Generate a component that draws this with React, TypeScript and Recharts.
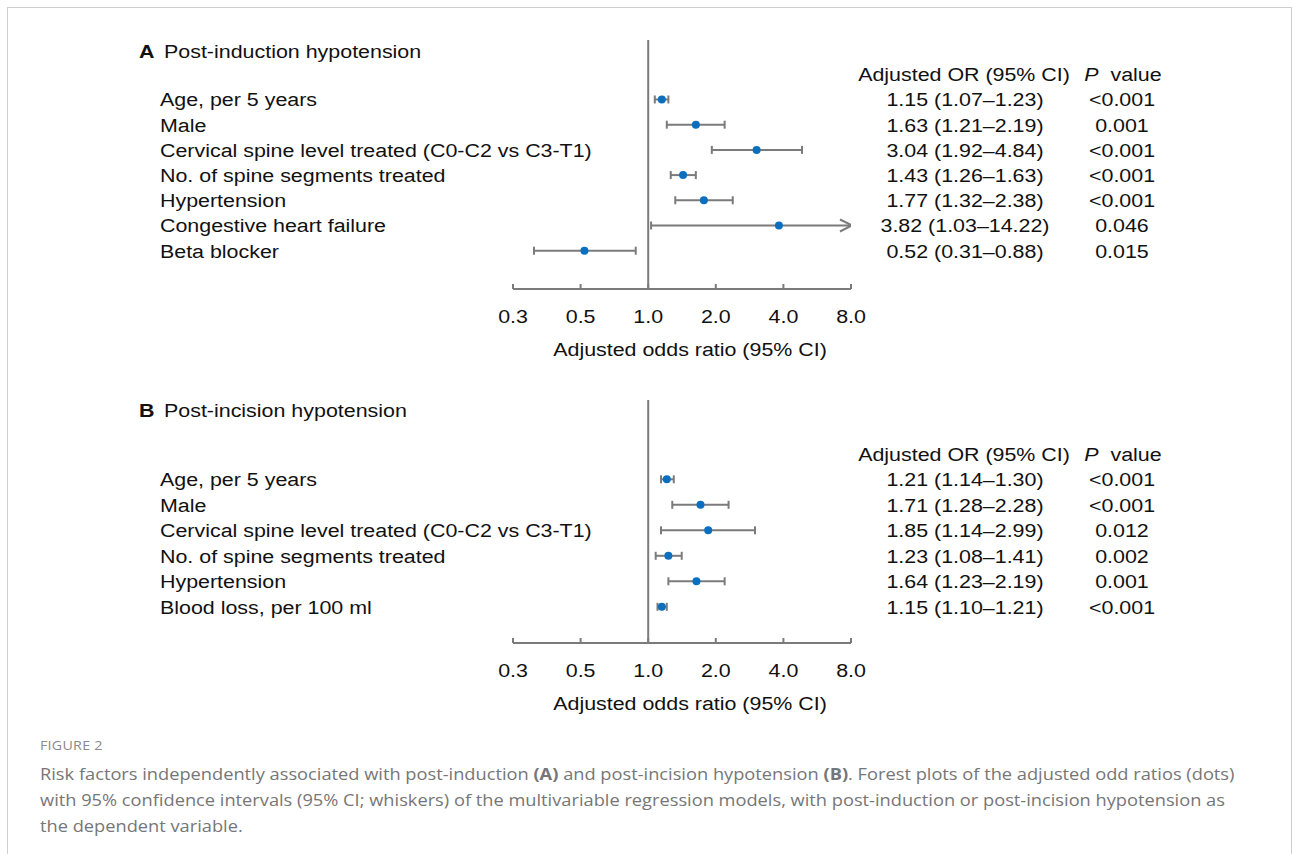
import React from "react";
import { ScatterChart, Scatter, XAxis, YAxis, ReferenceLine, Label } from "recharts";

// Panel A: post-induction hypotension
const factorsA = [
  "Age, per 5 years",
  "Male",
  "Cervical spine level treated (C0-C2 vs C3-T1)",
  "No. of spine segments treated",
  "Hypertension",
  "Congestive heart failure",
  "Beta blocker",
];
const orA = [1.15, 1.63, 3.04, 1.43, 1.77, 3.82, 0.52];
const lowA = [1.07, 1.21, 1.92, 1.26, 1.32, 1.03, 0.31];
const highA = [1.23, 2.19, 4.84, 1.63, 2.38, 14.22, 0.88];
const pA = ["<0.001", "0.001", "<0.001", "<0.001", "<0.001", "0.046", "0.015"];

// Panel B: post-incision hypotension
const factorsB = [
  "Age, per 5 years",
  "Male",
  "Cervical spine level treated (C0-C2 vs C3-T1)",
  "No. of spine segments treated",
  "Hypertension",
  "Blood loss, per 100 ml",
];
const orB = [1.21, 1.71, 1.85, 1.23, 1.64, 1.15];
const lowB = [1.14, 1.28, 1.14, 1.08, 1.23, 1.1];
const highB = [1.3, 2.28, 2.99, 1.41, 2.19, 1.21];
const pB = ["<0.001", "<0.001", "0.012", "0.002", "0.001", "<0.001"];

const xTicks = [0.25, 0.5, 1, 2, 4, 8];
const xTickLabels = ["0.3", "0.5", "1.0", "2.0", "4.0", "8.0"];
const X_MAX = 8;

const GRAY = "#7b7b7b";
const BLUE = "#0b6fc0";
const FONT = "'Liberation Sans', Arial, Helvetica, sans-serif";
const SX = 1.19; // the original lettering is a little wide
const CAP_SX = 1.14;

function T({ x, y, anchor = "start", weight, children }: any) {
  return (
    <text
      transform={`translate(${x},${y}) scale(${SX},1)`}
      textAnchor={anchor}
      fontSize={18}
      fontWeight={weight}
      fontFamily={FONT}
      fill="#111"
    >
      {children}
    </text>
  );
}

const fmt = (v: number) => v.toFixed(2);

function XTick({ x, y, payload }: any) {
  const idx = xTicks.indexOf(payload.value);
  return (
    <g>
      <line x1={x} y1={y} x2={x} y2={y - 5} stroke={GRAY} strokeWidth={2} />
      <T x={x} y={y + 34} anchor="middle">
        {xTickLabels[idx]}
      </T>
    </g>
  );
}

const makeRowTick =
  (labels: string[], ors: number[], lows: number[], highs: number[], ps: string[]) =>
  ({ y, payload }: any) => {
    const i = Math.round(payload.value);
    const by = y + 7;
    if (i < 0) {
      return (
        <g>
          <T x={964} y={by} anchor="middle">
            Adjusted OR (95% CI)
          </T>
          <T x={1123} y={by} anchor="middle">
            <tspan fontStyle="italic">P</tspan>
            <tspan dx={5}> value</tspan>
          </T>
        </g>
      );
    }
    return (
      <g>
        <T x={160} y={by}>
          {labels[i]}
        </T>
        <T x={965} y={by} anchor="middle">
          {`${fmt(ors[i])} (${fmt(lows[i])}–${fmt(highs[i])})`}
        </T>
        <T x={1122} y={by} anchor="middle">
          {ps[i]}
        </T>
      </g>
    );
  };

function EndShape({ cx, cy, payload }: any) {
  if (payload.end === "arrow") {
    return (
      <polyline
        points={`${cx - 11},${cy - 6} ${cx + 1},${cy} ${cx - 11},${cy + 6}`}
        fill="none"
        stroke={GRAY}
        strokeWidth={2}
      />
    );
  }
  return <line x1={cx} y1={cy - 4} x2={cx} y2={cy + 4} stroke={GRAY} strokeWidth={2} />;
}

function Dot({ cx, cy }: any) {
  return <circle cx={cx} cy={cy} r={4} fill={BLUE} />;
}

function AxisTitle({ viewBox }: any) {
  return (
    <T x={viewBox.x + viewBox.width / 2 + 8} y={viewBox.y + 67} anchor="middle">
      Adjusted odds ratio (95% CI)
    </T>
  );
}

function Forest({
  labels,
  ors,
  lows,
  highs,
  ps,
  domain,
  height,
}: {
  labels: string[];
  ors: number[];
  lows: number[];
  highs: number[];
  ps: string[];
  domain: [number, number];
  height: number;
}) {
  const rows = ors.map((v, i) => ({ x: v, y: i }));
  const yTicks = [-1, ...labels.map((_, i) => i)];
  return (
    <ScatterChart width={1293} height={height} margin={{ top: 40, right: 442, bottom: 0, left: 512 }}>
      <XAxis
        dataKey="x"
        type="number"
        scale="log"
        domain={[xTicks[0], X_MAX]}
        allowDataOverflow
        ticks={xTicks}
        interval={0}
        tickLine={false}
        tickSize={0}
        tickMargin={0}
        axisLine={{ stroke: GRAY, strokeWidth: 2 }}
        tick={<XTick />}
        height={80}
      >
        <Label content={<AxisTitle />} />
      </XAxis>
      <YAxis
        dataKey="y"
        type="number"
        domain={domain}
        allowDataOverflow
        reversed
        ticks={yTicks}
        interval={0}
        width={1}
        axisLine={false}
        tickLine={false}
        tick={makeRowTick(labels, ors, lows, highs, ps)}
      />
      <ReferenceLine x={1} stroke={GRAY} strokeWidth={2} />
      {ors.map((_, i) => (
        <Scatter
          key={i}
          data={[
            { x: lows[i], y: i, end: "cap" },
            { x: Math.min(highs[i], X_MAX), y: i, end: highs[i] > X_MAX ? "arrow" : "cap" },
          ]}
          line={{ stroke: GRAY, strokeWidth: 2 }}
          shape={<EndShape />}
          isAnimationActive={false}
        />
      ))}
      <Scatter data={rows} shape={<Dot />} isAnimationActive={false} />
    </ScatterChart>
  );
}

const titleStyle: React.CSSProperties = {
  position: "absolute",
  left: 139,
  fontFamily: FONT,
  fontSize: 18,
  lineHeight: "20px",
  color: "#111",
  transform: `scaleX(${SX})`,
  transformOrigin: "left center",
  whiteSpace: "nowrap",
};

export default function App() {
  return (
    <div
      style={{
        position: "absolute",
        left: 0,
        top: 0,
        width: 1293,
        height: 854,
        overflow: "hidden",
        background: "#fff",
      }}
    >
      <div
        style={{
          position: "absolute",
          left: 7,
          top: 7,
          width: 1285,
          height: 900,
          boxSizing: "border-box",
          border: "1px solid #cfcfcf",
        }}
      />
      <div style={{ ...titleStyle, top: 42 }}>
        <b>A</b>
        <span style={{ marginLeft: 8 }}>Post-induction hypotension</span>
      </div>
      <div style={{ ...titleStyle, top: 401 }}>
        <b>B</b>
        <span style={{ marginLeft: 8 }}>Post-incision hypotension</span>
      </div>
      <div style={{ position: "absolute", left: 0, top: 0 }}>
        <Forest labels={factorsA} ors={orA} lows={lowA} highs={highA} ps={pA} domain={[-2.36, 7.52]} height={369} />
      </div>
      <div style={{ position: "absolute", left: 0, top: 360 }}>
        <Forest labels={factorsB} ors={orB} lows={lowB} highs={highB} ps={pB} domain={[-3.11, 6.42]} height={363} />
      </div>
      <div
        style={{
          position: "absolute",
          left: 40,
          top: 737,
          fontFamily: "'Open Sans', sans-serif",
          fontSize: 12,
          color: "#8a8a8a",
          letterSpacing: 0.2,
          transform: `scaleX(${SX})`,
          transformOrigin: "left center",
        }}
      >
        FIGURE 2
      </div>
      <div
        style={{
          position: "absolute",
          left: 40,
          top: 761,
          width: 1058,
          fontFamily: "'Open Sans', sans-serif",
          fontSize: 16,
          lineHeight: "26px",
          color: "#767676",
          transform: `scaleX(${CAP_SX})`,
          transformOrigin: "left top",
        }}
      >
        Risk factors independently associated with post-induction <b>(A)</b> and post-incision hypotension <b>(B)</b>.
        Forest plots of the adjusted odd ratios (dots) with 95% confidence intervals (95% CI; whiskers) of the
        multivariable regression models, with post-induction or post-incision hypotension as the dependent variable.
      </div>
    </div>
  );
}
